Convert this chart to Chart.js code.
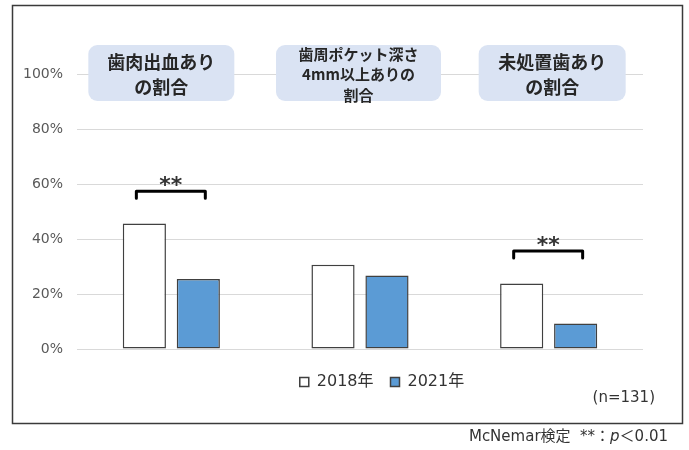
<!DOCTYPE html>
<html>
<head>
<meta charset="utf-8">
<script src="https://cdn.jsdelivr.net/npm/chart.js@4.4.1/dist/chart.umd.min.js"></script>
<style>
  body { margin: 0; background: #fff; }
  #wrap { width: 689px; height: 450px; }
</style>
</head>
<body>
<div id="wrap"><canvas id="myChart"></canvas></div>
<script>
// data
var categories = [
  ['歯肉出血あり', 'の割合'],
  ['歯周ポケット深さ', '4mm以上ありの', '割合'],
  ['未処置歯あり', 'の割合']
];
var seriesNames = ['2018年', '2021年'];
var values2018 = [45.6, 30.6, 23.8];
var values2021 = [25.5, 26.7, 9.3];
var significance = ['**', '', '**'];
var yTicks = [0, 20, 40, 60, 80, 100];
var sampleNote = '(n=131)';
var testNote = ['McNemar検定  **：', 'p', '＜0.01'];

var latin = "'DejaVu Sans', 'Noto Sans CJK JP', sans-serif";
var jp = "'Noto Sans CJK JP', sans-serif";

// frame, category boxes, brackets and notes
var decorations = {
  id: 'decorations',
  beforeDraw: function (chart) {
    var c = chart.ctx;
    c.save();
    c.fillStyle = '#fff';
    c.fillRect(0, 0, chart.width, chart.height);
    c.strokeStyle = '#3a3a3a';
    c.lineWidth = 1.5;
    c.strokeRect(12.5, 5.5, 670, 418);
    c.restore();
  },
  afterLayout: function (chart) {
    // legend sits a little right of centre in the original
    var lg = chart.legend;
    var shift = 382 - (lg.left + lg.right) / 2;
    lg.left += shift;
    lg.right += shift;
  },
  afterDatasetsDraw: function (chart) {
    var c = chart.ctx;
    var x = chart.scales.x, y = chart.scales.y;
    var offs = [-10, -1.5, 3.5];
    var widths = [146, 165, 147];
    var sizes = [18, 15, 18];
    var lineH = [25, 20.5, 25];
    c.save();
    categories.forEach(function (lines, i) {
      var cx = x.getPixelForValue(i) + offs[i];
      var w = widths[i], top = 45, h = 56;
      c.fillStyle = '#dae3f3';
      c.beginPath();
      c.roundRect(cx - w / 2, top, w, h, 9);
      c.fill();
      c.fillStyle = '#262626';
      c.font = 'bold ' + sizes[i] + 'px ' + jp;
      c.textAlign = 'center';
      c.textBaseline = 'middle';
      var mid = top + h / 2 + 1.5;
      lines.forEach(function (t, k) {
        c.fillText(t, cx, mid + (k - (lines.length - 1) / 2) * lineH[i]);
      });
    });

    // significance brackets
    var m0 = chart.getDatasetMeta(0), m1 = chart.getDatasetMeta(1);
    significance.forEach(function (s, i) {
      if (!s) return;
      var top = Math.max(values2018[i], values2021[i]);
      var ly = y.getPixelForValue(top + 11.8);
      var x0 = m0.data[i].x - 8, x1 = m1.data[i].x + 7;
      c.strokeStyle = '#000';
      c.lineWidth = 3;
      c.lineJoin = 'round';
      c.lineCap = 'round';
      c.beginPath();
      c.moveTo(x0, ly + 7);
      c.lineTo(x0, ly);
      c.lineTo(x1, ly);
      c.lineTo(x1, ly + 7);
      c.stroke();
      c.fillStyle = '#333';
      c.font = 'bold 22px ' + latin;
      c.textAlign = 'center';
      c.textBaseline = 'middle';
      c.fillText(s, (x0 + x1) / 2, ly - 5);
    });

    // notes
    c.fillStyle = '#333';
    c.textBaseline = 'middle';
    c.textAlign = 'right';
    c.font = '15px ' + latin;
    c.fillText(sampleNote, 655, 398);

    var fonts = ['15px ' + latin, 'italic 15px ' + latin, '15px ' + latin];
    var total = 0;
    testNote.forEach(function (t, k) { c.font = fonts[k]; total += c.measureText(t).width; });
    var px = 668 - total;
    c.textAlign = 'left';
    testNote.forEach(function (t, k) {
      c.font = fonts[k];
      c.fillText(t, px, 437);
      px += c.measureText(t).width;
    });
    c.restore();
  }
};

var ctx = document.getElementById('myChart').getContext('2d');
var myChart = new Chart(ctx, {
  type: 'bar',
  data: {
    labels: categories.map(function (l) { return l.join(''); }),
    datasets: [{
      label: seriesNames[0],
      data: values2018,
      backgroundColor: '#ffffff',
      borderColor: '#404040',
      borderWidth: 1.5,
      borderSkipped: false
    }, {
      label: seriesNames[1],
      data: values2021,
      backgroundColor: '#5b9bd5',
      borderColor: '#404040',
      borderWidth: 1.5,
      borderSkipped: false
    }]
  },
  options: {
    responsive: true,
    maintainAspectRatio: false,
    animation: false,
    layout: { padding: { top: 74, left: 12, right: 46, bottom: 50 } },
    categoryPercentage: 0.572,
    barPercentage: 0.8,
    scales: {
      x: {
        grid: { display: false },
        border: { display: false },
        ticks: { display: false }
      },
      y: {
        min: 0,
        max: 100,
        afterBuildTicks: function (s) {
          s.ticks = yTicks.map(function (v) { return { value: v }; });
        },
        afterFit: function (s) { s.width = 65; },
        grid: { color: '#d9d9d9', lineWidth: 1, drawTicks: false },
        border: { display: false },
        ticks: {
          padding: 14,
          color: '#595959',
          font: { family: latin, size: 14 },
          callback: function (v) { return v + '%'; }
        }
      }
    },
    plugins: {
      legend: {
        position: 'bottom',
        labels: {
          boxWidth: 9,
          boxHeight: 9,
          padding: 17,
          color: '#333',
          font: { family: latin, size: 16 }
        }
      },
      tooltip: { enabled: false }
    }
  },
  plugins: [decorations]
});
</script>
</body>
</html>
